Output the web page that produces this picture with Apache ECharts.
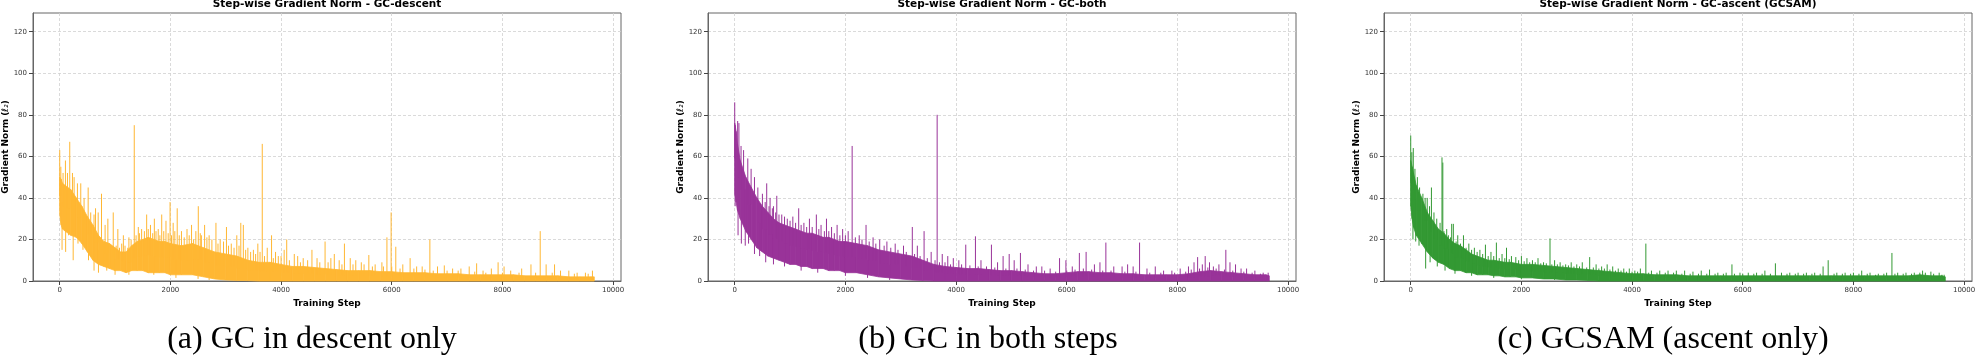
<!DOCTYPE html>
<html>
<head>
<meta charset="utf-8">
<script src="https://cdn.jsdelivr.net/npm/echarts@6/dist/echarts.min.js"></script>
<style>
  html, body { margin: 0; padding: 0; background: #fff; }
  #chart { width: 1976px; height: 360px; }
</style>
</head>
<body>
<div id="chart"></div>
<script>
const steps = [0, 25, 50, 100, 200, 300, 400, 500, 600, 700, 800, 900, 1000, 1100, 1200, 1300, 1400, 1500, 1600, 1700,
  1800, 1900, 2000, 2200, 2400, 2600, 2800, 3000, 3200, 3400, 3600, 3800, 4000, 4200, 4400, 4600, 4800, 5000, 5200, 5400,
  5600, 5800, 6000, 6200, 6400, 6600, 6800, 7000, 7200, 7400, 7600, 7800, 8000, 8200, 8400, 8600, 8800, 9000, 9200, 9400,
  9600, 9660]

// (a) GC-descent
const descentLow = [32, 27, 25, 24, 22, 21, 18, 14, 10, 8, 7, 6, 5, 5, 4, 5, 5, 5, 4, 4,
  4, 4, 3, 3, 3, 2, 1, 0.5, 0.3, 0.2, 0, 0, 0, 0, 0, 0, 0, 0, 0, 0,
  0, 0, 0, 0, 0, 0, 0, 0, 0, 0, 0, 0, 0, 0, 0, 0, 0, 0, 0, 0, 0, 0]
const descentHigh = [50, 49, 47, 46, 44, 40, 36, 31, 27, 22, 19, 18, 16, 14, 14, 17, 19, 20, 21, 20,
  19, 19, 18, 17, 18, 16, 14, 13, 12, 10, 9, 9, 8, 7, 7, 6.5, 6, 5.5, 5, 5,
  5, 4.5, 4.5, 4, 4, 4, 3.5, 3.5, 3.5, 3, 3, 3, 3, 3, 2.5, 2.5, 2.5, 2.5, 2, 2, 2, 2]
const descentSpikes = [[0, 63], [20, 55], [60, 52], [103, 58], [140, 52], [181, 67], [230, 52], [260, 50], [320, 47], [380, 47],
  [440, 40], [514, 45], [560, 33], [620, 32], [647, 35], [695, 33], [755, 42], [820, 27], [870, 30], [967, 33],
  [1050, 25], [1150, 22], [1250, 21], [1347, 75], [1420, 26], [1480, 25], [1571, 32], [1640, 27], [1710, 30], [1780, 25],
  [1843, 32], [1920, 29], [1994, 38], [2050, 28], [2123, 35], [2200, 24], [2300, 25], [2382, 27], [2460, 24], [2504, 36],
  [2560, 22], [2618, 27], [2700, 22], [2823, 28], [2900, 20], [3013, 26], [3100, 18], [3200, 22], [3272, 28], [3318, 27],
  [3400, 16], [3500, 15], [3580, 18], [3660, 66], [3750, 16], [3828, 22], [3900, 14], [4000, 12], [4056, 15], [4102, 20],
  [4239, 13], [4300, 12], [4400, 11], [4558, 15], [4650, 11], [4795, 19], [4900, 11], [4962, 13], [5050, 10], [5145, 18],
  [5250, 11], [5350, 10], [5450, 9], [5586, 12.5], [5700, 8], [5822, 9], [5913, 21], [5989, 33], [6073, 16.5], [6200, 8],
  [6332, 11], [6450, 7], [6550, 7], [6689, 20], [6827, 7], [6950, 7.5], [7100, 6], [7250, 6], [7400, 7], [7534, 8.5],
  [7650, 5], [7800, 6], [7922, 9], [8030, 7], [8150, 5], [8348, 6], [8516, 8], [8683, 24], [8790, 8], [8942, 8],
  [9050, 5], [9200, 5], [9350, 4], [9500, 4], [9627, 5]]
// smaller spikes that make the ragged top of the band
const descentEdge = [[1020, 17], [1080, 16], [1120, 18], [1180, 17], [1230, 16], [1290, 20], [1380, 22], [1440, 23], [1530, 24], [1600, 25],
  [1680, 23], [1740, 24], [1810, 22], [1880, 24], [1960, 23], [2020, 22], [2080, 24], [2160, 22], [2250, 21], [2340, 22],
  [2420, 20], [2540, 23], [2660, 21], [2750, 20], [2860, 18], [2960, 19], [3050, 17], [3150, 16], [3240, 17], [3360, 15],
  [3450, 14], [3540, 13], [3620, 14], [3700, 12], [3860, 11], [3950, 12], [4150, 10], [4350, 9], [4480, 10], [4700, 9],
  [4850, 9], [5100, 8], [5300, 8], [5500, 8], [5650, 7], [5850, 7], [6000, 7], [6150, 6], [6400, 6], [6600, 5.5],
  [6750, 5], [7000, 5], [7200, 5], [7500, 4.5], [7700, 4], [8000, 4], [8300, 4], [8600, 4], [8900, 4], [9300, 3.5],
  [9550, 3.5]]
const descentDips = [[10, 35], [42, 15], [107, 14], [160, 22], [243, 10], [330, 18], [420, 15], [520, 10], [620, 5], [700, 4],
  [850, 5], [1000, 3], [1250, 3], [1700, 3], [2100, 1.5], [2500, 1], [2700, 0.5]]

// (b) GC-both
const bothLow = [42, 38, 34, 30, 24, 20, 16, 14, 12, 11, 10, 9, 8, 8, 7, 7, 6, 6, 6, 5,
  5, 5, 4, 4, 3, 2, 1.5, 1, 0.5, 0.2, 0, 0, 0, 0, 0, 0, 0, 0, 0, 0,
  0, 0, 0, 0, 0, 0, 0, 0, 0, 0, 0, 0, 0, 0, 0, 0, 0, 0, 0, 0, 0, 0]
const bothHigh = [76, 72, 66, 58, 50, 45, 40, 36, 33, 30, 28, 27, 26, 25, 24, 23, 23, 22, 21, 21,
  20, 19, 19, 18, 17, 15, 14, 13, 12, 10, 8, 7, 6.5, 6, 6, 5.5, 5, 5, 4.5, 4,
  3.5, 3.5, 4, 4.5, 4.5, 4, 4, 3.5, 3.5, 3, 3, 3, 3, 3.5, 4.5, 5, 4.5, 4, 3.5, 3, 3, 2.5]
const bothSpikes = [[0, 86], [10, 75], [53, 77], [76, 76], [114, 65], [160, 63], [236, 59], [296, 54], [357, 50], [418, 45],
  [500, 42], [578, 47], [639, 40], [700, 36], [760, 41], [850, 32], [950, 30], [1050, 31], [1156, 35], [1250, 28],
  [1350, 30], [1475, 32], [1560, 27], [1658, 30], [1750, 26], [1850, 27], [1950, 25], [2050, 24], [2122, 65], [2250, 22],
  [2373, 27], [2500, 21], [2620, 20], [2750, 19], [2900, 18], [3050, 17], [3209, 26], [3300, 17], [3422, 24], [3550, 14],
  [3658, 80], [3750, 13], [3850, 12], [3950, 11], [4050, 10], [4175, 17.5], [4350, 21.5], [4450, 10], [4639, 17.5], [4750, 9],
  [4850, 12], [4960, 13], [5050, 10], [5163, 13.5], [5300, 8], [5450, 7], [5550, 7], [5700, 6], [5870, 11], [5985, 10],
  [6100, 7], [6228, 13.5], [6350, 14], [6500, 8], [6600, 9], [6707, 18.5], [6850, 7], [7000, 7], [7100, 8], [7200, 7],
  [7316, 18.5], [7450, 6], [7600, 7], [7750, 5], [7900, 5], [8050, 6], [8200, 7], [8300, 9], [8365, 11.5], [8450, 8],
  [8502, 12], [8580, 9], [8650, 7], [8750, 8], [8875, 15], [8950, 9], [9050, 8], [9150, 6], [9250, 6], [9400, 5],
  [9550, 4], [9640, 4]]
const bothEdge = [[550, 38], [620, 36], [680, 35], [740, 33], [800, 32], [900, 31], [1000, 29], [1100, 28], [1200, 27], [1300, 26],
  [1400, 26], [1520, 25], [1620, 24], [1700, 24], [1800, 23], [1900, 22], [2000, 22], [2180, 21], [2300, 20], [2430, 19],
  [2550, 18], [2700, 17], [2820, 16], [2950, 15], [3100, 14], [3250, 13], [3350, 12], [3480, 11], [3620, 10], [3700, 9],
  [3800, 9], [3900, 8], [4100, 8], [4250, 7.5], [4400, 7], [4550, 7], [4700, 6.5], [4900, 6], [5100, 6], [5250, 5.5],
  [5400, 5], [5600, 5], [5800, 4.5], [6000, 5], [6150, 5.5], [6300, 6], [6450, 5.5], [6650, 5], [6800, 5], [7050, 4.5],
  [7250, 4.5], [7500, 4], [7700, 4], [7950, 4], [8150, 4.5], [8250, 5.5], [8400, 6], [8550, 6.5], [8700, 6], [8850, 5.5],
  [9000, 5], [9200, 4.5], [9350, 4], [9500, 3.5]]
const bothDips = [[8, 36], [60, 22], [120, 18], [190, 17], [250, 18], [357, 13], [450, 12], [560, 9], [700, 8], [900, 7],
  [1200, 5], [1500, 4], [2000, 2.5], [2400, 1.5], [2800, 0.5]]

// (c) GC-ascent (GCSAM)
const ascentLow = [36, 30, 26, 22, 18, 14, 11, 9, 8, 6, 5, 5, 4, 4, 3, 3, 3, 2.5, 2.5, 2,
  2, 2, 1.5, 1.5, 1, 1, 0.5, 0.5, 0.3, 0, 0, 0, 0, 0, 0, 0, 0, 0, 0, 0,
  0, 0, 0, 0, 0, 0, 0, 0, 0, 0, 0, 0, 0, 0, 0, 0, 0, 0, 0, 0, 0, 0]
const ascentHigh = [58, 55, 52, 46, 40, 33, 29, 25, 23, 20, 18, 17, 15, 13, 12, 11, 10, 10, 9.5, 9,
  9, 8.5, 8, 8, 7.5, 7, 6.5, 6, 5.5, 5, 4.5, 4, 3.5, 3.5, 3, 3, 3, 2.5, 2.5, 2.5,
  2.5, 2.5, 2.5, 2.5, 2.5, 2.5, 2.5, 2.5, 2.5, 2.5, 2.5, 2.5, 2.5, 2.5, 2.5, 2.5, 2.5, 2.5, 3, 2.5, 2.5, 2]
const ascentSpikes = [[0, 70], [20, 62], [46, 64], [76, 54], [120, 50], [160, 45], [220, 42], [260, 40], [298, 40], [340, 36],
  [374, 45], [420, 33], [470, 30], [530, 28], [565, 59.5], [580, 57], [650, 25], [740, 27.5], [770, 27.5], [850, 22],
  [953, 22], [1050, 18], [1150, 16], [1250, 15], [1350, 17.5], [1450, 14], [1548, 18.5], [1650, 13], [1731, 16], [1820, 12],
  [1899, 11.5], [2000, 12], [2100, 11], [2200, 10], [2300, 11], [2400, 9], [2517, 20.5], [2600, 10], [2700, 9], [2800, 8],
  [2900, 9], [3000, 8], [3100, 9], [3234, 11.5], [3350, 8], [3450, 7], [3550, 8], [3650, 7], [3750, 6], [3850, 6],
  [3950, 6], [4050, 5], [4150, 6], [4249, 18], [4350, 5], [4500, 5], [4650, 5], [4800, 5], [4950, 5], [5100, 4.5],
  [5250, 5], [5400, 5.5], [5550, 4], [5700, 4], [5805, 8], [5950, 4], [6100, 4], [6250, 4], [6400, 5], [6590, 8.5],
  [6700, 4], [6850, 4], [7000, 4], [7150, 4], [7300, 4], [7452, 7], [7544, 10], [7700, 4], [7850, 4], [8000, 4],
  [8150, 5], [8300, 4], [8450, 3.5], [8600, 4], [8696, 13.5], [8800, 4], [8950, 4], [9100, 4], [9250, 5], [9400, 4.5],
  [9550, 4], [9640, 3]]
const ascentEdge = [[600, 24], [680, 22], [720, 21], [820, 19], [900, 18], [1000, 16], [1100, 15], [1200, 14], [1300, 13], [1400, 12],
  [1500, 12], [1600, 11], [1700, 11], [1780, 10.5], [1950, 10], [2050, 9.5], [2150, 9], [2250, 9], [2350, 8.5], [2450, 8.5],
  [2550, 8], [2650, 8], [2750, 7.5], [2850, 7.5], [2950, 7], [3050, 7], [3180, 6.5], [3300, 6.5], [3400, 6], [3500, 6],
  [3600, 5.5], [3700, 5], [3800, 5], [3900, 4.5], [4000, 4.5], [4100, 4.5], [4300, 4], [4450, 4], [4600, 4], [4750, 4],
  [4900, 3.5], [5050, 3.5], [5200, 3.5], [5350, 3.5], [5500, 3.5], [5650, 3.5], [5850, 3.5], [6000, 3.5], [6200, 3.5], [6350, 3.5],
  [6500, 3.5], [6800, 3.5], [6950, 3.5], [7100, 3.5], [7250, 3.5], [7400, 3.5], [7650, 3.5], [7800, 3.5], [7950, 3.5], [8100, 3.5],
  [8250, 3.5], [8400, 3], [8550, 3.5], [8750, 3.5], [8900, 3.5], [9050, 3.5], [9200, 4], [9300, 4], [9450, 3.5], [9600, 3]]
const ascentDips = [[5, 36], [40, 20], [90, 19], [150, 17], [270, 6], [350, 9], [480, 7], [620, 5], [800, 3.5], [1100, 2.5],
  [1500, 1.5], [2000, 1], [2600, 0.5]]

const xTicks = [0, 2000, 4000, 6000, 8000, 10000]
const yTicks = [0, 20, 40, 60, 80, 100, 120]
const titles = ['Step-wise Gradient Norm - GC-descent', 'Step-wise Gradient Norm - GC-both', 'Step-wise Gradient Norm - GC-ascent (GCSAM)']
const captions = ['(a) GC in descent only', '(b) GC in both steps', '(c) GCSAM (ascent only)']

const panels = [
  { low: descentLow, high: descentHigh, marks: [descentSpikes, descentEdge, descentDips], color: '#ffb733', left: 33, capX: 312 },
  { low: bothLow, high: bothHigh, marks: [bothSpikes, bothEdge, bothDips], color: '#993399', left: 708, capX: 988 },
  { low: ascentLow, high: ascentHigh, marks: [ascentSpikes, ascentEdge, ascentDips], color: '#339933', left: 1384, capX: 1663 }
]
const plotW = 588
const plotTop = 13
const plotH = 268
const font = 'DejaVu Sans'

// index of the band reading just before a given step
function readingAt(step) {
  let k = 0
  while (k < steps.length - 1 && steps[k + 1] <= step) k++
  return k
}

const chart = echarts.init(document.getElementById('chart'))

const gridLine = { show: true, lineStyle: { color: '#d0d0d0', width: 0.8, type: [3, 2] } }

const option = {
  animation: false,
  backgroundColor: '#fff',
  title: [],
  grid: [],
  xAxis: [],
  yAxis: [],
  series: []
}

panels.forEach((p, i) => {
  option.grid.push({
    left: p.left, top: plotTop, width: plotW, height: plotH,
    show: true, borderColor: '#666', borderWidth: 1,
    containLabel: false, outerBoundsMode: 'none'
  })
  option.title.push({
    text: titles[i], left: p.left + plotW / 2, top: -1, padding: 0, textAlign: 'center',
    textStyle: { fontFamily: font, fontSize: 10.5, fontWeight: 'bold', color: '#000' }
  })
  option.title.push({
    text: captions[i], left: p.capX, top: 323, padding: 0, textAlign: 'center',
    textStyle: { fontFamily: 'Liberation Serif', fontSize: 32, fontWeight: 'normal', color: '#000', lineHeight: 34 }
  })
  option.xAxis.push({
    type: 'value', gridIndex: i, min: -483, max: 10143, splitNumber: 5,
    name: 'Training Step', nameLocation: 'middle', nameGap: 15,
    nameTextStyle: { fontFamily: font, fontSize: 9, fontWeight: 'bold', color: '#000' },
    axisLine: { show: true, onZero: false, lineStyle: { color: '#666', width: 1 } },
    axisTick: { show: true, length: 4, customValues: xTicks, lineStyle: { color: '#444' } },
    axisLabel: { customValues: xTicks, formatter: v => String(v), fontFamily: font, fontSize: 7, color: '#333', margin: 6 },
    splitLine: gridLine
  })
  option.yAxis.push({
    type: 'value', gridIndex: i, min: 0, max: 129, interval: 20,
    name: 'Gradient Norm ({m|ℓ₂})', nameLocation: 'middle', nameGap: 23, nameRotate: 90,
    nameTextStyle: {
      fontFamily: font, fontSize: 9, fontWeight: 'bold', color: '#000',
      rich: { m: { fontFamily: font, fontSize: 9, fontStyle: 'italic', fontWeight: 'normal', color: '#000' } }
    },
    axisLine: { show: true, onZero: false, lineStyle: { color: '#666', width: 1 } },
    axisTick: { show: true, length: 4, customValues: yTicks, lineStyle: { color: '#444' } },
    axisLabel: { customValues: yTicks, fontFamily: font, fontSize: 7, color: '#333', margin: 6 },
    splitLine: gridLine
  })
  // dense noise band: one quad per pair of neighbouring readings
  const segs = []
  for (let k = 0; k < steps.length - 1; k++) {
    segs.push([steps[k], p.low[k], p.high[k], steps[k + 1], p.low[k + 1], p.high[k + 1]])
  }
  option.series.push({
    type: 'custom', xAxisIndex: i, yAxisIndex: i, silent: true, z: 2,
    data: segs,
    encode: { x: [0, 3], y: [1, 2, 4, 5] },
    renderItem: (params, api) => {
      const a = api.coord([api.value(0), api.value(1)])
      const b = api.coord([api.value(0), api.value(2)])
      const c = api.coord([api.value(3), api.value(5)])
      const d = api.coord([api.value(3), api.value(4)])
      return {
        type: 'polygon',
        shape: { points: [a, b, c, d] },
        style: { fill: p.color, stroke: p.color, lineWidth: 0.8 }
      }
    }
  })
  // single-step spikes above and dips below the band, each drawn from inside the band
  option.series.push({
    type: 'custom', xAxisIndex: i, yAxisIndex: i, silent: true, z: 3,
    data: [].concat(...p.marks),
    encode: { x: 0, y: 1 },
    renderItem: (params, api) => {
      const s = api.value(0)
      const k = readingAt(s)
      const mid = (p.low[k] + p.high[k]) / 2
      const top = api.coord([s, api.value(1)])
      const base = api.coord([s, mid])
      return {
        type: 'line',
        shape: { x1: top[0], y1: top[1], x2: base[0], y2: base[1] },
        style: { stroke: p.color, lineWidth: 1 }
      }
    }
  })
})

chart.setOption(option)
</script>
</body>
</html>
